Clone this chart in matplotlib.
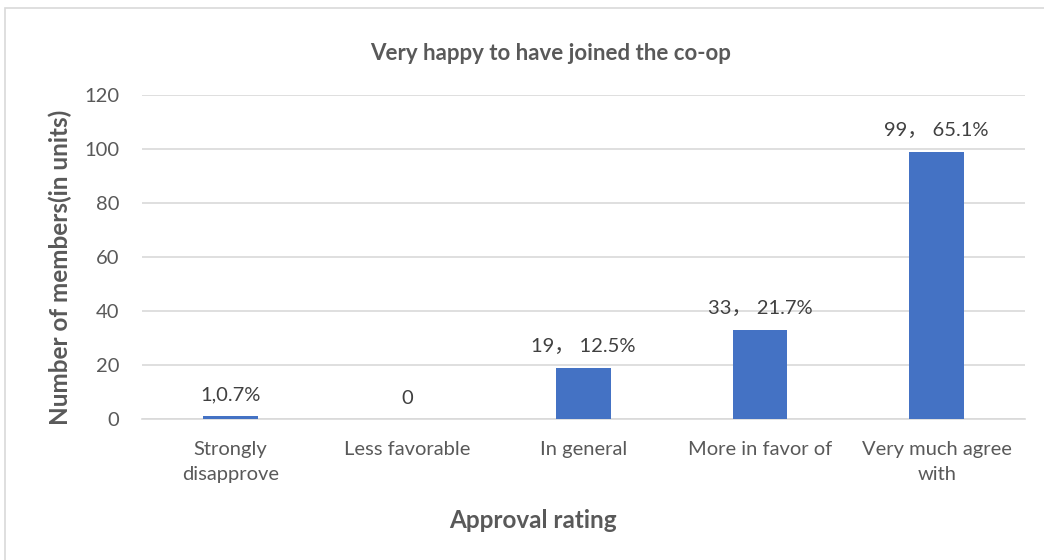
import matplotlib
matplotlib.use("Agg")
import matplotlib.pyplot as plt
from matplotlib.patches import Rectangle
import numpy as np

categories = ["Strongly\ndisapprove", "Less favorable", "In general", "More in favor of", "Very much agree\nwith"]
counts = [1, 0, 19, 33, 99]
bar_labels = ["1,0.7%", "0", "19， 12.5%", "33， 21.7%", "99， 65.1%"]
y_ticks = [0, 20, 40, 60, 80, 100, 120]

text_grey = "#595959"
grid_grey = "#D9D9D9"
bar_blue = "#4472C4"
fonts = ["Lato", "Noto Sans CJK SC", "DejaVu Sans"]
plt.rcParams["font.family"] = fonts

fig = plt.figure(figsize=(10.44, 5.6), dpi=100)
ax = fig.add_axes([142 / 1044, 141 / 560, 883 / 1044, 324 / 560])

x = np.arange(len(categories))
ax.bar(x, counts, width=0.31, color=bar_blue, zorder=3)
for xi, val, lab in zip(x, counts, bar_labels):
    ax.annotate(lab, (xi, val), xytext=(0, 9), textcoords="offset points",
                ha="center", va="bottom", fontsize=14.5, color="#404040")

ax.set_xlim(-0.5, len(categories) - 0.5)
ax.set_ylim(0, 120)
ax.set_yticks(y_ticks)
ax.set_xticks(x, categories)
ax.tick_params(axis="both", length=0, labelsize=14.5, labelcolor=text_grey)
ax.tick_params(axis="x", pad=16)
ax.tick_params(axis="y", pad=16.5)
plt.setp(ax.get_xticklabels(), linespacing=1.55)
ax.grid(axis="y", color=grid_grey, linewidth=1.2, zorder=0)
for s in ["top", "right", "left"]:
    ax.spines[s].set_visible(False)
ax.spines["bottom"].set_color(grid_grey)
ax.spines["bottom"].set_linewidth(1.2)

fig.text(551 / 1044, 1 - 53 / 560, "Very happy to have joined the co-op", ha="center", va="center",
         fontsize=16, fontweight="bold", color=text_grey)
fig.text(533 / 1044, 1 - 521 / 560, "Approval rating", ha="center", va="center",
         fontsize=17.5, fontweight="bold", color=text_grey)
fig.text(60 / 1044, 1 - 267 / 560, "Number of members(in units)", ha="center", va="center",
         rotation=90, fontsize=17.5, fontweight="bold", color=text_grey)

# chart area border (cropped on the right and bottom)
fig.patches.append(Rectangle((5 / 1044, -0.1), 1.2, 0.1 + (560 - 8) / 560, transform=fig.transFigure,
                             fill=False, edgecolor=grid_grey, linewidth=1.2))

fig.savefig("out.png", dpi=100, facecolor="white")
